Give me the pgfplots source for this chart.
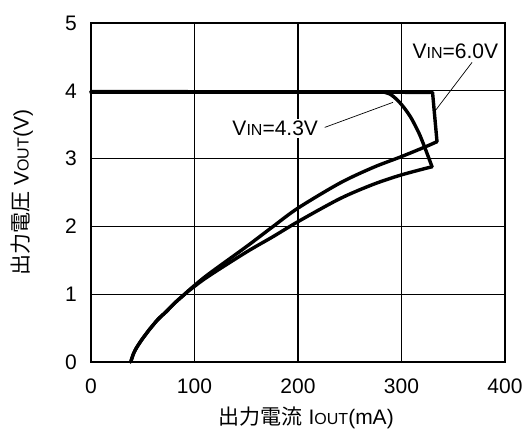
\documentclass[border=0pt]{standalone}
\usepackage{fontspec}
\setmainfont{Liberation Sans}
\newfontfamily\cjk{Noto Sans CJK JP}
\usepackage{pgfplots}
\pgfplotsset{compat=1.18}
\newcommand\sm[1]{{\fontsize{16bp}{16bp}\selectfont #1}}
\begin{document}
\fontsize{21bp}{25bp}\selectfont
\begin{tikzpicture}
\begin{axis}[
 scale only axis, width=414bp, height=339bp,
 at={(0,0)}, anchor=south west,
 xmin=0,xmax=400,ymin=0,ymax=5,
 xtick={0,100,200,300,400}, ytick={0,1,2,3,4,5},
 grid=major, major grid style={black, line width=1.1bp},
 axis line style={black, line width=1.1bp},
 major tick length=0pt,
 /pgf/number format/assume math mode=true,
 tick label style={font=\fontsize{21bp}{25bp}\selectfont},
 xticklabel style={anchor=center, yshift=-24bp},
 yticklabel style={anchor=center, xshift=-20bp},
 xlabel={{\cjk 出力電流} I\sm{OUT}(mA)},
 ylabel={{\cjk 出力電圧} V\sm{OUT}(V)},
 xlabel style={at={(axis description cs:0.52,-0.165)}, anchor=center},
 ylabel style={at={(axis description cs:-0.1667,0.5)}, anchor=center},
 every axis plot/.append style={black, line width=3.4bp, line join=round, line cap=round},
 clip=false
]
% VIN = 6.0 V
\addplot[sharp plot] coordinates {
 (0,3.99) (283,3.98) (330,3.975) (334.3,3.25)
};
\addplot[smooth] coordinates {
 (334.3,3.25) (324,3.18) (300,3.03) (272.7,2.87) (240.6,2.64) (200,2.27)
 (176,2.0) (150,1.70) (113,1.29) (97,1.09) (89,0.98) (80.9,0.87) (72.5,0.74)
 (64.8,0.63) (56,0.47) (48.7,0.32) (44,0.21) (41,0.12) (38.4,0)
};
% VIN = 4.3 V
\addplot[sharp plot] coordinates {
 (0,3.98) (283,3.98)
};
\addplot[smooth] coordinates {
 (283,3.98) (289,3.95) (295.6,3.87) (302,3.76) (308.5,3.62)
 (313.5,3.48) (318.2,3.33) (324.6,3.08) (329.5,2.88)
};
\addplot[smooth] coordinates {
 (329.5,2.88) (300,2.76) (272.7,2.62) (240.6,2.41) (200,2.07) (176,1.85)
 (150,1.62) (113,1.26) (97,1.08) (89,0.98) (80.9,0.87) (72.5,0.74)
 (64.8,0.63) (56,0.47) (48.7,0.32) (44,0.21) (41,0.12) (38.4,0)
};
\draw[line width=0.7bp] (axis cs:368.2,4.42) -- (axis cs:332.8,3.71);
\node[fill=white, inner sep=2bp] at (axis cs:352,4.59) {V\sm{IN}=6.0V};
\draw[line width=0.7bp] (axis cs:225.8,3.46) -- (axis cs:291.8,3.83);
\node[fill=white, inner sep=2bp] at (axis cs:178,3.44) {V\sm{IN}=4.3V};
\end{axis}
\pgfresetboundingbox
\useasboundingbox (-91bp,-73bp) rectangle (433bp,362bp);
\end{tikzpicture}
\end{document}
